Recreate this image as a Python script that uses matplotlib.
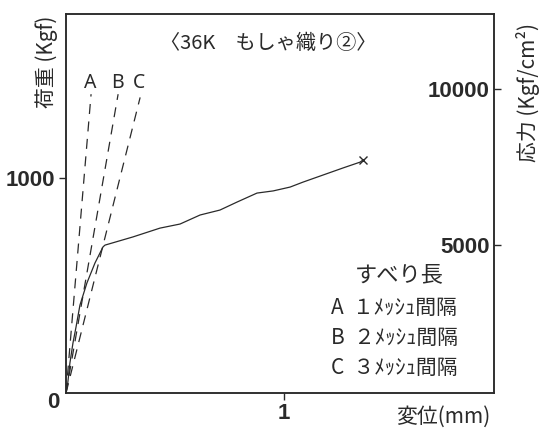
"""36K もしゃ織り② load-displacement chart."""

import matplotlib

matplotlib.use("Agg")
import matplotlib.pyplot as plt

# measured load-displacement curve
disp_mm = [0.0, 0.008, 0.018, 0.032, 0.046, 0.064, 0.096, 0.133, 0.170, 0.179,
           0.307, 0.431, 0.523, 0.615, 0.706, 0.784, 0.876, 0.950, 1.028,
           1.087, 1.179, 1.271, 1.349, 1.362]
load_kgf = [0, 46, 140, 233, 307, 409, 512, 605, 680, 688,
            726, 767, 786, 828, 851, 888, 930, 940, 958,
            981, 1014, 1047, 1074, 1084]

# slip-length reference lines (start, end)
ref_names = ["A", "B", "C"]
ref_disp = [[0.0, 0.115], [0.0, 0.239], [0.0, 0.340]]
ref_load = [[0, 1390], [0, 1390], [0, 1375]]

legend_title = "すべり長"
legend_rows = ["A  １ﾒｯｼｭ間隔", "B  ２ﾒｯｼｭ間隔", "C  ３ﾒｯｼｭ間隔"]

load_ticks = [1000]
stress_ticks = [5000, 10000]
disp_ticks = [1]

INK = "#2a2a2a"
JP = ["Noto Sans CJK JP", "DejaVu Sans"]
NUM = ["Liberation Sans Narrow", "Liberation Sans", "DejaVu Sans"]

fig = plt.figure(figsize=(5.42, 4.33), dpi=100)
ax = fig.add_axes([66 / 542, 1 - 393 / 433, 428 / 542, 379 / 433])

ax.plot(disp_mm, load_kgf, color=INK, lw=0.9)
ax.plot(disp_mm[-1], load_kgf[-1], marker="x", color=INK, ms=6, mew=1.0)

for name, xs, ys in zip(ref_names, ref_disp, ref_load):
    ax.plot(xs, ys, color=INK, lw=0.9, linestyle=(0, (8, 6)))
    ax.text(xs[1] - 0.005, 1442, name, ha="center", va="center",
            fontsize=14, color=INK, family=["Noto Sans", "DejaVu Sans"])

ax.set_xlim(0, 1.963)
ax.set_ylim(0, 1763)
ax.set_xticks(disp_ticks)
ax.set_xticklabels([str(t) for t in disp_ticks])
ax.set_yticks(load_ticks)
ax.set_yticklabels([str(t) for t in load_ticks])

ax2 = ax.twinx()
ax2.set_ylim(262, 12404)
ax2.set_yticks(stress_ticks)
ax2.set_yticklabels([str(t) for t in stress_ticks])

for a in (ax, ax2):
    for spine in a.spines.values():
        spine.set_color(INK)
        spine.set_linewidth(1.1)
    a.tick_params(colors=INK, width=1.0, length=5, direction="out")

ax.tick_params(axis="y", pad=3)
ax.tick_params(axis="x", pad=2)
ax2.tick_params(axis="y", pad=-8)

for lbl in ax.get_yticklabels() + ax.get_xticklabels() + ax2.get_yticklabels():
    lbl.set_family(NUM)
    lbl.set_fontweight("bold")
    lbl.set_fontsize(16)
for lbl in ax2.get_yticklabels():
    lbl.set_horizontalalignment("right")

# origin label shared by both axes
fig.text(53 / 542, 1 - 403 / 433, "0", ha="center", va="center",
         fontsize=16, fontweight="bold", family=NUM, color=INK)

ax.text(0.472, 0.923, "〈36K　もしゃ織り②〉", transform=ax.transAxes,
        ha="center", va="center", fontsize=14.5, family=JP, color=INK)

ax.text(0.778, 0.311, legend_title, transform=ax.transAxes,
        ha="center", va="center", fontsize=16, family=JP, color=INK)
for row, ypos in zip(legend_rows, [0.224, 0.145, 0.066]):
    ax.text(0.619, ypos, row, transform=ax.transAxes,
            ha="left", va="center", fontsize=15, family=JP, color=INK)

fig.text(443 / 542, 1 - 417 / 433, "変位(mm)", ha="center", va="center",
         fontsize=15, family=JP, color=INK)
fig.text(47 / 542, 1 - 62 / 433, "荷重 (Kgf)", rotation=90, ha="center",
         va="center", fontsize=15, family=JP, color=INK)
fig.text(528 / 542, 1 - 93 / 433, "応力 (Kgf/cm²)", rotation=90, ha="center",
         va="center", fontsize=15, family=JP, color=INK)

fig.savefig("out.png", dpi=100)
